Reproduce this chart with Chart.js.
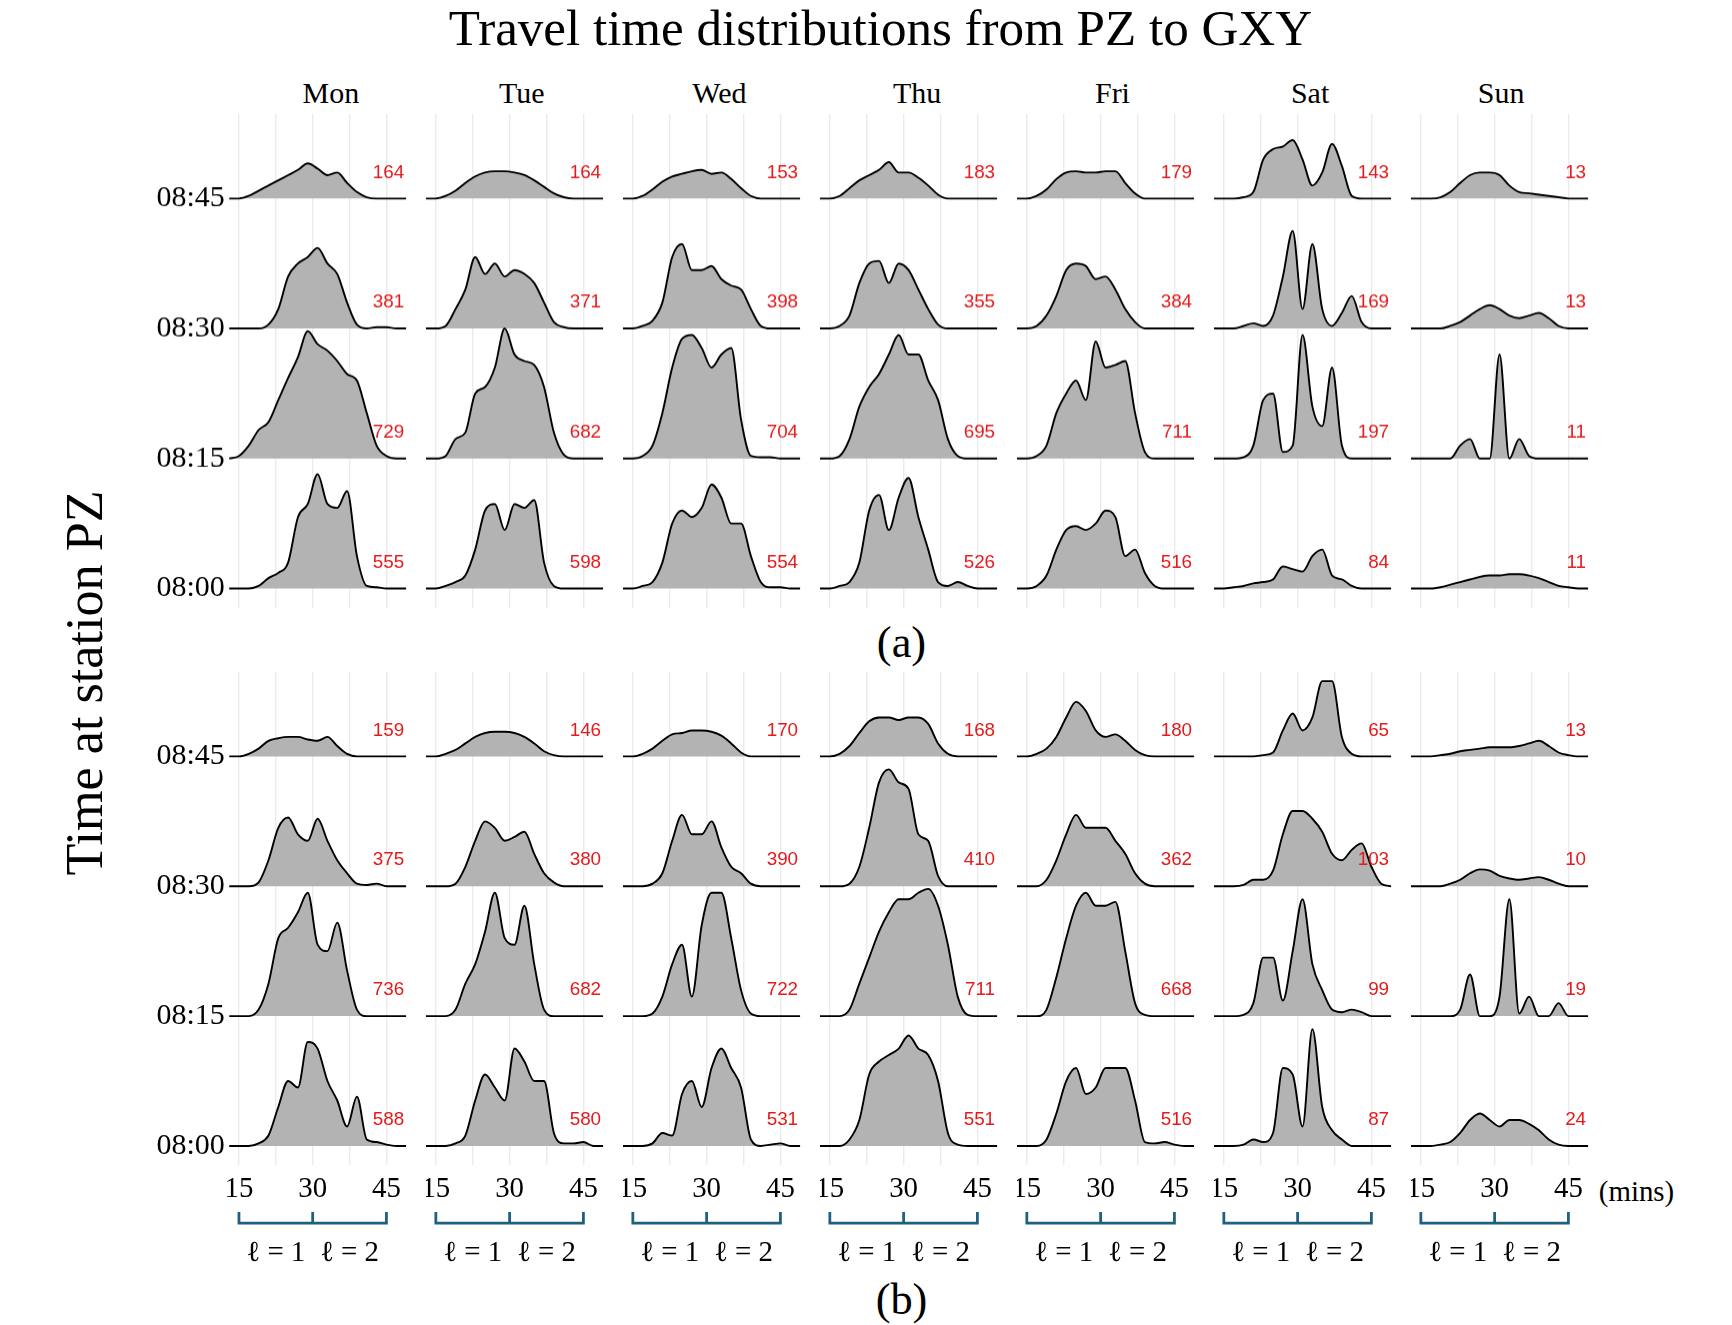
<!DOCTYPE html>
<html>
<head>
<meta charset="utf-8">
<script src="https://cdn.jsdelivr.net/npm/chart.js@4.4.1/dist/chart.umd.min.js"></script>
<style>
body { margin:0; background:#fff; width:1732px; height:1325px; position:relative; font-family:"Liberation Serif", serif; overflow:hidden; }
.t { position:absolute; white-space:nowrap; transform:translate(-50%,-50%); color:#000; }
canvas { position:absolute; }
</style>
</head>
<body>
<script>
// travel time grid (mins) where the density heights are read
var xMins = [13,15,17,19,21,23,25,27,29,31,33,35,37,39,41,43,45,47,49];
var days = ["Mon","Tue","Wed","Thu","Fri","Sat","Sun"];
var slotLabels = ["08:00","08:15","08:30","08:45"];
var xTickLabels = [15,30,45];

// panel (a): rows = 08:00, 08:15, 08:30, 08:45 ; heights in units of one slot
var aMon = [
 [0,0,0,0.02,0.08,0.12,0.2,0.55,0.65,0.88,0.65,0.62,0.75,0.25,0.02,0.01,0,0,0],
 [0,0.02,0.1,0.22,0.28,0.45,0.62,0.78,0.98,0.88,0.83,0.75,0.65,0.6,0.35,0.1,0.02,0,0],
 [0,0,0,0,0.03,0.15,0.4,0.5,0.55,0.62,0.5,0.42,0.2,0.03,0,0.01,0.01,0,0],
 [0,0,0.02,0.06,0.1,0.14,0.18,0.22,0.27,0.23,0.18,0.2,0.12,0.05,0.01,0,0,0,0]];
var aTue = [
 [0,0,0.02,0.05,0.1,0.3,0.6,0.65,0.45,0.65,0.62,0.68,0.2,0.02,0,0,0,0,0],
 [0,0,0.02,0.15,0.2,0.5,0.55,0.7,1.0,0.8,0.75,0.72,0.55,0.2,0.03,0,0,0,0],
 [0,0,0.02,0.15,0.3,0.55,0.42,0.5,0.4,0.45,0.42,0.35,0.2,0.05,0.01,0,0,0,0],
 [0,0,0.02,0.06,0.12,0.17,0.2,0.21,0.21,0.2,0.18,0.14,0.09,0.04,0.01,0,0,0,0]];
var aWed = [
 [0,0,0.02,0.05,0.2,0.5,0.6,0.55,0.62,0.8,0.7,0.5,0.5,0.25,0.05,0.01,0.01,0,0],
 [0,0,0.02,0.1,0.35,0.7,0.92,0.95,0.85,0.7,0.8,0.85,0.3,0.02,0.01,0.01,0,0,0],
 [0,0,0.02,0.06,0.2,0.55,0.65,0.45,0.45,0.48,0.38,0.33,0.3,0.15,0.02,0,0,0,0],
 [0,0,0.02,0.07,0.13,0.17,0.19,0.21,0.22,0.19,0.2,0.15,0.08,0.02,0,0,0,0,0]];
var aThu = [
 [0,0,0.02,0.05,0.2,0.6,0.72,0.45,0.7,0.85,0.55,0.3,0.05,0.02,0.05,0.02,0,0,0],
 [0,0,0.02,0.15,0.4,0.55,0.65,0.8,0.95,0.8,0.8,0.6,0.45,0.15,0.02,0,0,0,0],
 [0,0,0.02,0.1,0.35,0.5,0.52,0.35,0.5,0.45,0.3,0.15,0.03,0,0,0,0,0,0],
 [0,0,0.02,0.08,0.14,0.18,0.22,0.28,0.2,0.2,0.16,0.1,0.03,0,0,0,0,0,0]];
var aFri = [
 [0,0,0.02,0.1,0.3,0.45,0.48,0.45,0.5,0.6,0.55,0.25,0.3,0.12,0.02,0,0,0,0],
 [0,0,0.02,0.1,0.35,0.5,0.6,0.45,0.9,0.7,0.72,0.75,0.35,0.05,0,0,0,0,0],
 [0,0,0.02,0.1,0.25,0.45,0.5,0.48,0.38,0.4,0.3,0.15,0.05,0,0,0,0,0,0],
 [0,0,0.02,0.07,0.15,0.2,0.21,0.2,0.2,0.21,0.21,0.12,0.04,0,0,0,0,0,0]];
var aSat = [
 [0,0,0.01,0.02,0.04,0.05,0.07,0.17,0.15,0.13,0.25,0.3,0.1,0.07,0.02,0,0,0,0],
 [0,0,0,0.01,0.1,0.45,0.5,0.05,0.1,0.95,0.4,0.25,0.7,0.1,0,0,0,0,0],
 [0,0,0,0.02,0.04,0.02,0.1,0.4,0.75,0.15,0.65,0.15,0.02,0.12,0.25,0.05,0,0,0],
 [0,0,0,0.01,0.05,0.3,0.38,0.4,0.45,0.3,0.1,0.2,0.42,0.25,0.02,0,0,0,0]];
var aSun = [
 [0,0,0,0.01,0.03,0.05,0.07,0.09,0.1,0.1,0.11,0.11,0.1,0.08,0.05,0.02,0.01,0,0],
 [0,0,0,0,0,0.1,0.15,0,0,0.8,0,0.15,0.02,0,0,0,0,0,0],
 [0,0,0,0,0.02,0.05,0.1,0.15,0.18,0.15,0.1,0.08,0.1,0.12,0.08,0.02,0,0,0],
 [0,0,0,0.01,0.05,0.12,0.18,0.2,0.2,0.18,0.1,0.05,0.04,0.03,0.02,0.01,0,0,0]];

// panel (b)
var bMon = [
 [0,0,0,0.02,0.08,0.3,0.5,0.45,0.8,0.75,0.5,0.35,0.15,0.38,0.05,0.03,0.01,0,0],
 [0,0,0,0.05,0.25,0.6,0.68,0.8,0.95,0.55,0.5,0.72,0.35,0.05,0,0,0,0,0],
 [0,0,0,0.03,0.2,0.45,0.53,0.4,0.35,0.52,0.35,0.2,0.1,0.02,0.01,0.02,0,0,0],
 [0,0,0.02,0.06,0.12,0.14,0.15,0.15,0.13,0.12,0.15,0.08,0.02,0,0,0,0,0,0]];
var bTue = [
 [0,0,0,0.02,0.08,0.35,0.55,0.45,0.35,0.75,0.65,0.5,0.5,0.1,0.02,0.02,0.03,0,0],
 [0,0,0,0.05,0.25,0.4,0.65,0.95,0.6,0.55,0.85,0.4,0.05,0,0,0,0,0,0],
 [0,0,0,0.02,0.15,0.35,0.5,0.45,0.35,0.38,0.42,0.25,0.1,0.03,0,0,0,0,0],
 [0,0,0.02,0.05,0.1,0.15,0.18,0.19,0.19,0.18,0.15,0.1,0.04,0.01,0,0,0,0,0]];
var bWed = [
 [0,0,0,0.02,0.1,0.08,0.4,0.5,0.3,0.6,0.75,0.6,0.45,0.05,0,0.01,0.02,0,0],
 [0,0,0,0.02,0.15,0.4,0.55,0.15,0.7,0.95,0.95,0.6,0.2,0.02,0,0,0,0,0],
 [0,0,0,0.02,0.1,0.35,0.55,0.4,0.4,0.5,0.3,0.15,0.1,0.02,0,0,0,0,0],
 [0,0,0.02,0.06,0.12,0.17,0.18,0.2,0.2,0.19,0.16,0.1,0.03,0,0,0,0,0,0]];
var bThu = [
 [0,0,0,0.05,0.2,0.55,0.65,0.7,0.75,0.85,0.75,0.7,0.5,0.1,0.01,0,0,0,0],
 [0,0,0,0.05,0.25,0.45,0.65,0.8,0.9,0.9,0.95,0.98,0.85,0.55,0.15,0.01,0,0,0],
 [0,0,0,0.02,0.15,0.45,0.8,0.9,0.8,0.75,0.4,0.35,0.08,0,0,0,0,0,0],
 [0,0,0.02,0.08,0.18,0.27,0.3,0.3,0.28,0.3,0.3,0.25,0.1,0.02,0,0,0,0,0]];
var bFri = [
 [0,0,0,0.05,0.25,0.5,0.6,0.4,0.45,0.6,0.6,0.6,0.35,0.03,0.02,0.03,0.01,0,0],
 [0,0,0,0.05,0.3,0.6,0.85,0.95,0.85,0.85,0.88,0.5,0.1,0.01,0,0,0,0,0],
 [0,0,0,0.05,0.2,0.4,0.55,0.45,0.45,0.45,0.35,0.25,0.1,0.02,0,0,0,0,0],
 [0,0,0.02,0.06,0.15,0.3,0.42,0.35,0.2,0.15,0.17,0.12,0.05,0.01,0,0,0,0,0]];
var bSat = [
 [0,0,0,0.01,0.05,0.03,0.1,0.6,0.55,0.15,0.9,0.3,0.12,0.05,0,0,0,0,0],
 [0,0,0,0.01,0.1,0.45,0.45,0.12,0.5,0.9,0.4,0.2,0.05,0.03,0.05,0.03,0,0,0],
 [0,0,0,0.01,0.05,0.05,0.12,0.4,0.58,0.58,0.52,0.42,0.25,0.2,0.28,0.33,0.15,0.02,0],
 [0,0,0,0,0,0.01,0.03,0.2,0.33,0.2,0.3,0.58,0.58,0.15,0.02,0,0,0,0]];
var bSun = [
 [0,0,0,0.01,0.03,0.1,0.2,0.25,0.2,0.15,0.2,0.2,0.17,0.12,0.05,0.01,0,0,0],
 [0,0,0,0,0,0.05,0.32,0,0,0.15,0.9,0.02,0.15,0,0,0.1,0,0,0],
 [0,0,0,0,0.02,0.05,0.1,0.13,0.12,0.08,0.06,0.05,0.06,0.07,0.05,0.02,0,0,0],
 [0,0,0,0.01,0.02,0.04,0.05,0.06,0.07,0.07,0.07,0.08,0.1,0.12,0.08,0.03,0.01,0,0]];

// trip counts per slot (08:00, 08:15, 08:30, 08:45)
var aCounts = [[555,729,381,164],[598,682,371,164],[554,704,398,153],[526,695,355,183],[516,711,384,179],[84,197,169,143],[11,11,13,13]];
var bCounts = [[588,736,375,159],[580,682,380,146],[531,722,390,170],[551,711,410,168],[516,668,362,180],[87,99,103,65],[24,19,10,13]];

var panelA = [aMon,aTue,aWed,aThu,aFri,aSat,aSun];
var panelB = [bMon,bTue,bWed,bThu,bFri,bSat,bSun];

var S = 1732 / 1560;   // layout measured on a 1560px-wide view
function px(v) { return v * S; }

function addText(txt, x, y, size, extra) {
    var el = document.createElement('div');
    el.className = 't';
    el.style.left = px(x) + 'px';
    el.style.top = px(y) + 'px';
    el.style.fontSize = px(size) + 'px';
    if (extra) el.style.transform = extra;
    el.textContent = txt;
    document.body.appendChild(el);
}

addText('Travel time distributions from PZ to GXY', 793, 24, 46);
addText('(a)', 812, 578, 40);
addText('(b)', 812, 1170, 40);
addText('Time at station PZ', 76, 615, 47, 'translate(-50%,-50%) rotate(-90deg)');
addText('(mins)', 1474, 1073, 26);
var dayLabelX = [298,470,648,826,1002,1180,1352];
days.forEach(function (d, i) { addText(d, dayLabelX[i], 84, 27); });

var ridgePlugin = {
    id: 'ridge',
    afterDatasetsDraw: function (chart) {
        var c = chart.ctx, xs = chart.scales.x, ys = chart.scales.y;
        var o = chart.options.plugins.ridge;
        c.save();
        c.fillStyle = '#e41a1c';
        c.font = px(17) + 'px "Liberation Sans"';
        c.textAlign = 'right';
        c.textBaseline = 'middle';
        o.values.forEach(function (n, k) {
            c.fillText(String(n), xs.getPixelForValue(48.6), ys.getPixelForValue(k + 0.2));
        });
        c.fillStyle = '#000';
        if (o.yLabels) {
            c.font = px(27) + 'px "Liberation Serif"';
            c.textAlign = 'right';
            slotLabels.forEach(function (s, k) {
                c.fillText(s, xs.left - px(4), ys.getPixelForValue(k));
            });
        }
        if (o.bottom) {
            var yb = ys.bottom;
            c.font = px(26) + 'px "Liberation Serif"';
            c.textAlign = 'center';
            xTickLabels.forEach(function (v) {
                c.fillText(String(v), xs.getPixelForValue(v), yb + px(22));
            });
            var y = yb + px(52);
            var x1 = xs.getPixelForValue(15), x2 = xs.getPixelForValue(30), x3 = xs.getPixelForValue(45);
            c.strokeStyle = '#1f5f80';
            c.lineWidth = px(2.5);
            c.beginPath();
            c.moveTo(x1, y - px(10)); c.lineTo(x1, y); c.lineTo(x3, y); c.lineTo(x3, y - px(10));
            c.moveTo(x2, y - px(10)); c.lineTo(x2, y);
            c.stroke();
            c.font = px(26) + 'px "Liberation Serif"';
            c.fillText('\u2113 = 1', xs.getPixelForValue(22.5), y + px(27));
            c.fillText('\u2113 = 2', xs.getPixelForValue(37.5), y + px(27));
        }
        c.restore();
    }
};

function makeChart(data, counts, col, bottom) {
    var leftPad = col === 0 ? px(110) : 0;
    var areaLeft = px(206 + 177.5 * col);
    var baseline0 = bottom ? 1032 : 530;
    var areaTop = px(baseline0 - 3.65 * 117);
    var areaBottom = px(baseline0 + 0.15 * 117);
    var belowH = bottom ? px(105) : 0;
    var w = px(164) + leftPad, h = areaBottom - areaTop + belowH;

    var canvas = document.createElement('canvas');
    canvas.style.left = (areaLeft - leftPad) + 'px';
    canvas.style.top = areaTop + 'px';
    canvas.width = w; canvas.height = h;
    canvas.style.width = w + 'px';
    canvas.style.height = h + 'px';
    document.body.appendChild(canvas);

    var datasets = data.map(function (row, k) {
        return {
            data: row.map(function (v, j) { return { x: xMins[j], y: v + k }; }),
            borderColor: '#000',
            borderWidth: 1.9,
            backgroundColor: '#b3b3b3',
            fill: { value: k },
            pointRadius: 0,
            cubicInterpolationMode: 'monotone'
        };
    });

    return new Chart(canvas, {
        type: 'line',
        data: { datasets: datasets },
        plugins: [ridgePlugin],
        options: {
            responsive: false,
            devicePixelRatio: 1,
            animation: false,
            layout: { padding: { left: leftPad, bottom: belowH, top: 0, right: 0 } },
            plugins: {
                legend: { display: false },
                tooltip: { enabled: false },
                filler: { drawTime: 'beforeDatasetDraw' },
                ridge: { values: counts, bottom: bottom, yLabels: col === 0 }
            },
            scales: {
                x: {
                    type: 'linear', min: 13, max: 50,
                    afterBuildTicks: function (s) { s.ticks = [15, 22.5, 30, 37.5, 45].map(function (v) { return { value: v }; }); },
                    afterFit: function (s) { s.height = 0; },
                    grid: { color: '#ebebeb', lineWidth: 1.4, drawTicks: false },
                    border: { display: false },
                    ticks: { display: false }
                },
                y: { min: -0.15, max: 3.65, display: false }
            }
        }
    });
}

for (var i = 0; i < 7; i++) {
    makeChart(panelA[i], aCounts[i], i, false);
    makeChart(panelB[i], bCounts[i], i, true);
}
</script>
</body>
</html>
